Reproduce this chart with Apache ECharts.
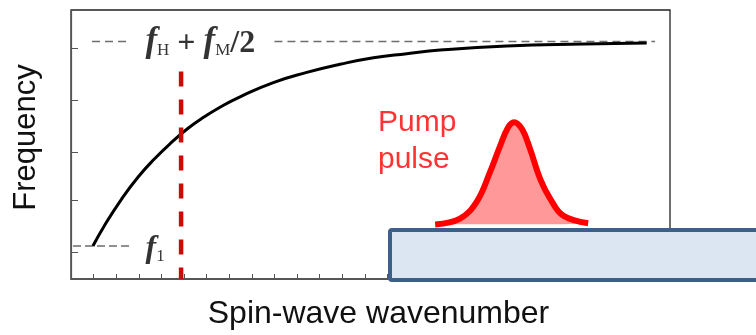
<!DOCTYPE html>
<html>
<head>
<meta charset="utf-8">
<script src="https://cdn.jsdelivr.net/npm/echarts@6/dist/echarts.min.js"></script>
<style>
  html, body { margin: 0; padding: 0; background: #fff; }
  #chart { width: 756px; height: 335px; }
</style>
</head>
<body>
<div id="chart"></div>
<script>
// Spin-wave dispersion: frequency rises from f1 and saturates at fH + fM/2
const wavenumber = [0.97, 1.49, 2.23, 2.97, 3.70, 4.42, 5.18, 5.92, 6.65, 7.48, 8.95, 10.43, 11.90, 13.38, 14.85, 16.33, 19.28, 22.67, 25.47];
const frequency  = [0.65, 1.06, 1.57, 2.01, 2.37, 2.68, 2.97, 3.20, 3.40, 3.59, 3.87, 4.07, 4.23, 4.36, 4.44, 4.51, 4.59, 4.63, 4.65];

// Reference levels
const fLow = 0.65;          // f1
const fHigh = 4.68;         // fH + fM/2
const fLowSpan = [0.09, 2.74];
const fHighSpanLeft = [0.93, 2.5];
const fHighSpanRight = [9.0, 25.84];

// Selected wavenumber (red dashed marker)
const kMarker = 4.87;
const kMarkerTop = 4.09;

// Pump pulse profile
const pulseK = [16.11, 17.21, 17.96, 18.54, 18.98, 19.34, 19.6, 19.96, 20.31, 20.75, 21.19, 21.77, 22.88];
const pulseF = [1.076, 1.19, 1.53, 2.11, 2.62, 2.99, 3.09, 2.95, 2.56, 1.98, 1.59, 1.25, 1.1];
const pulseBase = 1.08;

// Axis ticks
const yTickValues = [0.53, 1.55, 2.5, 3.52, 4.54];
const xTickInterval = 1;

// Annotation anchors (data units)
const fHighLabelAt = [5.72, 4.66];
const fLowLabelAt = [3.72, 0.6];
const pumpLabelAt = [13.58, 2.72];

const zip = (a, b) => a.map((v, i) => [v, b[i]]);

const chart = echarts.init(document.getElementById('chart'), null, { renderer: 'canvas' });

const serif = '"Liberation Serif", "Times New Roman", serif';
const sans = '"Liberation Sans", Arial, sans-serif';
const ink = '#000';

const option = {
  animation: false,
  grid: { left: 71, top: 10, right: 86, bottom: 54, show: true, borderColor: '#222', borderWidth: 1.3 },
  xAxis: {
    type: 'value', min: 0, max: 26.5, interval: xTickInterval,
    axisLine: { lineStyle: { color: '#555', width: 1.2 } },
    axisTick: { inside: true, length: 5, lineStyle: { color: '#555' } },
    axisLabel: { show: false },
    splitLine: { show: false },
    name: 'Spin-wave wavenumber', nameLocation: 'middle', nameGap: 19,
    nameTextStyle: { fontFamily: sans, fontSize: 32, color: '#111', padding: [0, 0, 0, 16] }
  },
  yAxis: {
    type: 'value', min: 0, max: 5.3,
    axisLine: { lineStyle: { color: '#555', width: 1.2 } },
    axisTick: { inside: true, length: 7, customValues: yTickValues, lineStyle: { color: '#555' } },
    axisLabel: { show: false },
    splitLine: { show: false },
    name: 'Frequency', nameLocation: 'middle', nameGap: 29,
    nameTextStyle: { fontFamily: sans, fontSize: 31, color: '#111', padding: [0, 0, 0, 14] }
  },
  graphic: [{
    type: 'rect', z: 1,
    shape: { x: 390, y: 230, width: 400, height: 50, r: 2 },
    style: { fill: '#dce6f2', stroke: '#3d5f8c', lineWidth: 4 }
  }],
  series: [
    {
      type: 'line', name: 'fHighLeft', symbol: 'none', z: 2,
      data: [[fHighSpanLeft[0], fHigh], [fHighSpanLeft[1], fHigh]],
      lineStyle: { color: '#6e6e6e', width: 1.5, type: [8, 5] }
    },
    {
      type: 'line', name: 'fHighRight', symbol: 'none', z: 2,
      data: [[fHighSpanRight[0], fHigh], [fHighSpanRight[1], fHigh]],
      lineStyle: { color: '#6e6e6e', width: 1.5, type: [8, 5] }
    },
    {
      type: 'line', name: 'fLow', symbol: 'none', z: 2,
      data: [[fLowSpan[0], fLow], [fLowSpan[1], fLow]],
      lineStyle: { color: '#222', width: 1.2, type: [8, 4] }
    },
    {
      type: 'line', name: 'dispersion', symbol: 'none', smooth: 0.5, z: 3,
      data: zip(wavenumber, frequency),
      lineStyle: { color: '#000', width: 3 }
    },
    {
      type: 'line', name: 'marker', symbol: 'none', z: 4,
      data: [[kMarker, kMarkerTop], [kMarker, 0]],
      lineStyle: { color: '#cc0a0a', width: 4.5, type: [15, 13] }
    },
    {
      type: 'line', name: 'pump', symbol: 'none', smooth: 0.4, z: 5,
      data: zip(pulseK, pulseF),
      lineStyle: { color: '#ff0000', width: 6 },
      areaStyle: { color: '#ff9999', opacity: 1, origin: pulseBase }
    },
    {
      type: 'scatter', name: 'annotations', symbolSize: 0, z: 6,
      data: [
        {
          value: fHighLabelAt,
          label: {
            show: true, position: 'inside',
            formatter: '{f|f}{sub|H}{op| + }{f|f}{sub|M}{op|/2}',
            rich: {
              f: { fontFamily: serif, fontStyle: 'italic', fontWeight: 'bold', fontSize: 35, lineHeight: 34, verticalAlign: 'bottom', color: ink },
              sub: { fontFamily: serif, fontSize: 17, lineHeight: 10, verticalAlign: 'bottom', color: ink },
              op: { fontFamily: serif, fontWeight: 'bold', fontSize: 32, lineHeight: 34, verticalAlign: 'bottom', color: ink }
            }
          }
        },
        {
          value: fLowLabelAt,
          label: {
            show: true, position: 'inside',
            formatter: '{f|f}{sub|1}',
            rich: {
              f: { fontFamily: serif, fontStyle: 'italic', fontWeight: 'bold', fontSize: 32, lineHeight: 32, verticalAlign: 'bottom', color: ink },
              sub: { fontFamily: serif, fontSize: 17, lineHeight: 3, verticalAlign: 'bottom', color: ink }
            }
          }
        },
        {
          value: pumpLabelAt,
          label: {
            show: true, position: 'right', distance: 0,
            formatter: 'Pump\npulse',
            fontFamily: sans, fontSize: 30, lineHeight: 37, color: '#ff0000'
          }
        }
      ]
    }
  ]
};

chart.setOption(option);
</script>
</body>
</html>
